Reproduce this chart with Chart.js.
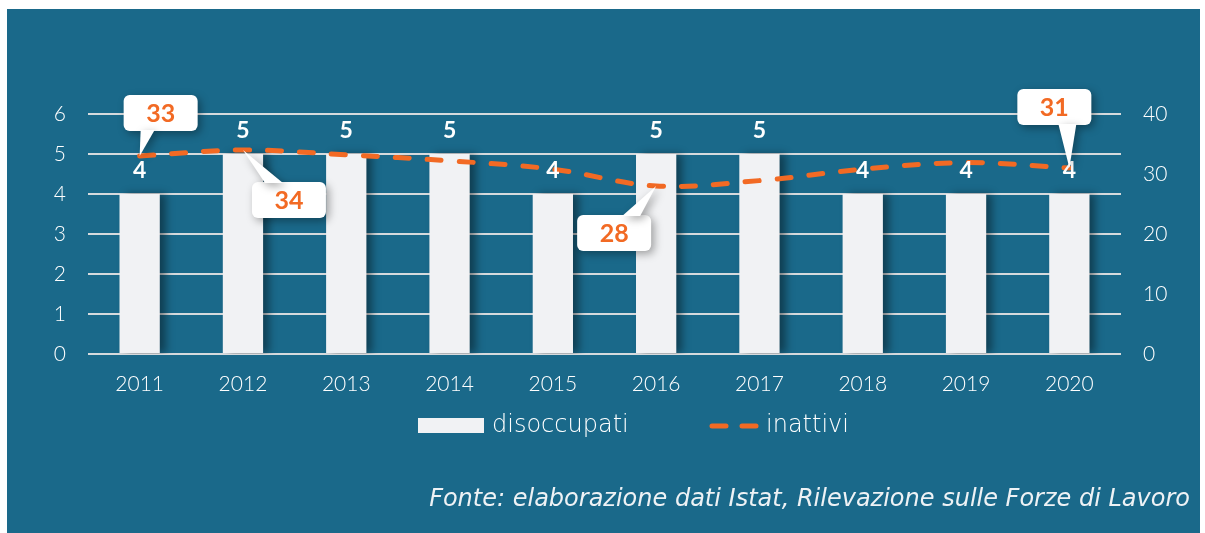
<!DOCTYPE html>
<html>
<head>
<meta charset="utf-8">
<script src="https://cdn.jsdelivr.net/npm/chart.js@4"></script>
<style>
  body { margin: 0; background: #fff; width: 1205px; height: 533px; overflow: hidden; }
  #panel { position: absolute; left: 7px; top: 9px; width: 1193px; height: 524px; background: #1a698a; }
</style>
</head>
<body>
<div id="panel"><canvas id="chart"></canvas></div>
<script>
// data
const years = ['2011', '2012', '2013', '2014', '2015', '2016', '2017', '2018', '2019', '2020'];
const disoccupati = [4, 5, 5, 5, 4, 5, 5, 4, 4, 4];
const inattivi = [33, 34, 33.2, 32.2, 30.8, 28, 28.9, 30.8, 31.9, 31];
const leftTicks = [0, 1, 2, 3, 4, 5, 6];
const rightTicks = [0, 10, 20, 30, 40];
const calloutYears = ['2011', '2012', '2016', '2020'];

const FONT = 'Lato, "Open Sans", sans-serif';
const WIDE = '"DejaVu Sans", sans-serif';
const ORANGE = '#f26a24';
const WHITE = '#ffffff';

// callout box placement relative to the point (styling only)
const calloutStyle = {
  '2011': { dx: 21, dy: -43, base: [-20, -6], side: 1 },
  '2012': { dx: 46, dy: 50, base: [-24, -6], side: -1 },
  '2016': { dx: -42, dy: 47, base: [8, 26], side: -1 },
  '2020': { dx: -15, dy: -61, base: [4, 22], side: 1 }
};

const barShadow = {
  id: 'barShadow',
  beforeDatasetDraw(chart, args) {
    if (args.index !== 1) return;
    const ctx = chart.ctx;
    ctx.save();
    ctx.shadowColor = 'rgba(0,0,0,0.4)';
    ctx.shadowBlur = 8;
    ctx.shadowOffsetX = 6;
  },
  afterDatasetDraw(chart, args) {
    if (args.index !== 1) return;
    chart.ctx.restore();
  }
};

const overlay = {
  id: 'overlay',
  afterDatasetsDraw(chart) {
    const ctx = chart.ctx;
    // bar value labels
    const barMeta = chart.getDatasetMeta(1);
    ctx.save();
    ctx.fillStyle = WHITE;
    ctx.font = 'bold 23px ' + FONT;
    ctx.textAlign = 'center';
    ctx.textBaseline = 'bottom';
    barMeta.data.forEach((bar, i) => {
      ctx.fillText(String(disoccupati[i]), bar.x, bar.y - 12);
    });
    ctx.restore();

    // callouts on the line
    const lineMeta = chart.getDatasetMeta(0);
    calloutYears.forEach(y => {
      const i = years.indexOf(y);
      const pt = lineMeta.data[i];
      const s = calloutStyle[y];
      const w = 74, h = 36, r = 6;
      const cx = pt.x + s.dx, cy = pt.y + s.dy;
      const left = cx - w / 2, top = cy - h / 2;
      const edgeY = s.side > 0 ? top + h - 1 : top + 1;
      ctx.save();
      ctx.shadowColor = 'rgba(0,0,0,0.35)';
      ctx.shadowBlur = 8;
      ctx.shadowOffsetX = 3;
      ctx.shadowOffsetY = 3;
      ctx.fillStyle = WHITE;
      ctx.beginPath();
      ctx.roundRect(left, top, w, h, r);
      ctx.fill();
      ctx.beginPath();
      ctx.moveTo(cx + s.base[0], edgeY);
      ctx.lineTo(pt.x, pt.y);
      ctx.lineTo(cx + s.base[1], edgeY);
      ctx.closePath();
      ctx.fill();
      ctx.restore();
      ctx.save();
      ctx.fillStyle = ORANGE;
      ctx.font = 'bold 25px ' + FONT;
      ctx.textAlign = 'center';
      ctx.textBaseline = 'middle';
      ctx.fillText(String(Math.round(inattivi[i])), cx, cy + 1);
      ctx.restore();
    });
  },
  afterDraw(chart) {
    const ctx = chart.ctx;
    ctx.save();
    // legend
    ctx.fillStyle = '#f1f2f4';
    ctx.fillRect(411, 409, 66, 15);
    ctx.fillStyle = WHITE;
    ctx.font = '200 24px ' + WIDE;
    ctx.textBaseline = 'middle';
    ctx.textAlign = 'left';
    ctx.fillText('disoccupati', 485, 417);
    ctx.strokeStyle = ORANGE;
    ctx.lineWidth = 5;
    ctx.lineCap = 'round';
    ctx.beginPath();
    ctx.moveTo(705, 417); ctx.lineTo(719, 417);
    ctx.moveTo(735, 417); ctx.lineTo(749, 417);
    ctx.stroke();
    ctx.fillText('inattivi', 759, 417);
    // source note
    ctx.fillStyle = '#eef2f5';
    ctx.font = 'italic 200 24px ' + WIDE;
    ctx.textAlign = 'right';
    ctx.fillText('Fonte: elaborazione dati Istat, Rilevazione sulle Forze di Lavoro', 1183, 491);
    ctx.restore();
  }
};

new Chart(document.getElementById('chart'), {
  data: {
    labels: years,
    datasets: [
      {
        type: 'line',
        label: 'inattivi',
        data: inattivi,
        yAxisID: 'y2',
        borderColor: ORANGE,
        borderWidth: 5,
        borderDash: [14, 18],
        borderCapStyle: 'round',
        tension: 0.35,
        pointRadius: 0,
        fill: false,
        order: 0
      },
      {
        type: 'bar',
        label: 'disoccupati',
        data: disoccupati,
        yAxisID: 'y',
        backgroundColor: '#f1f2f4',
        barPercentage: 0.39,
        categoryPercentage: 1,
        order: 1
      }
    ]
  },
  options: {
    responsive: true,
    maintainAspectRatio: false,
    animation: false,
    layout: { padding: { top: 105, left: 0, right: 0, bottom: 0 } },
    plugins: { legend: { display: false }, tooltip: { enabled: false } },
    scales: {
      x: {
        grid: { display: false, drawTicks: false },
        border: { display: false },
        ticks: { color: WHITE, font: { family: FONT, size: 21, weight: '300' }, padding: 18 },
        afterFit(scale) { scale.height = 179; }
      },
      y: {
        position: 'left',
        min: leftTicks[0],
        max: leftTicks[leftTicks.length - 1],
        ticks: { stepSize: 1, color: WHITE, font: { family: FONT, size: 21, weight: '300' }, padding: 22 },
        grid: { color: '#d6dadd', lineWidth: 2, drawTicks: false },
        border: { display: false },
        afterFit(scale) { scale.width = 81; }
      },
      y2: {
        position: 'right',
        min: rightTicks[0],
        max: rightTicks[rightTicks.length - 1],
        ticks: { stepSize: 10, color: WHITE, font: { family: FONT, size: 21, weight: '300' }, padding: 22 },
        grid: { drawOnChartArea: false, drawTicks: false },
        border: { display: false },
        afterFit(scale) { scale.width = 79; }
      }
    }
  },
  plugins: [barShadow, overlay]
});
</script>
</body>
</html>
